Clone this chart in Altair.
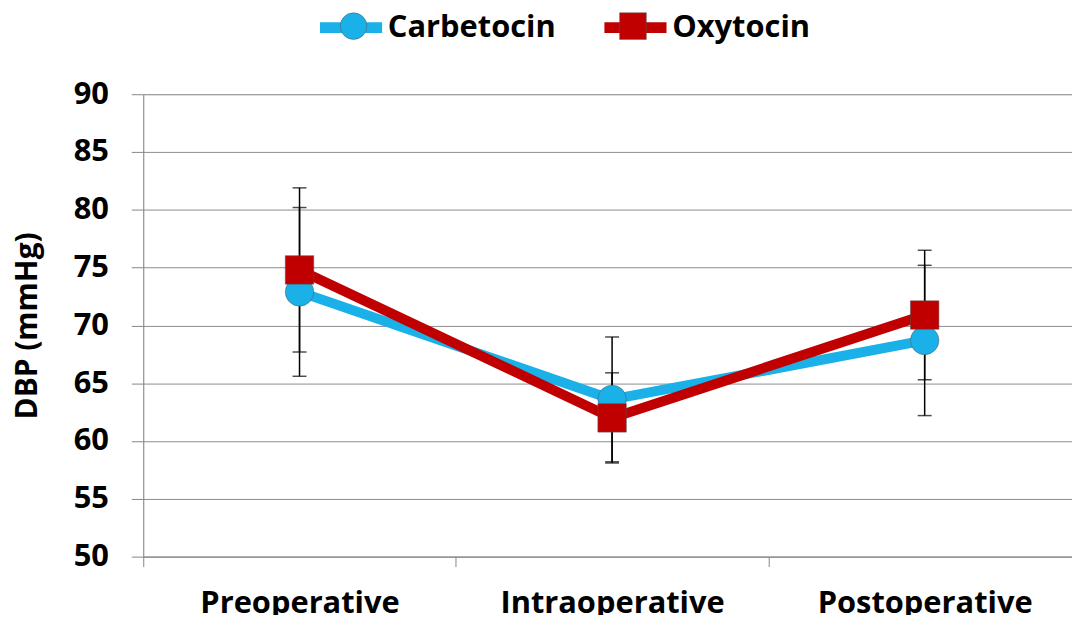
import altair as alt
import pandas as pd

phases = ["Preoperative", "Intraoperative", "Postoperative"]
series = ["Carbetocin", "Oxytocin"]
carb_mean = [72.9, 63.6, 68.7]
carb_sd = [7.3, 5.4, 6.5]
oxy_mean = [74.8, 62.0, 70.9]
oxy_sd = [7.1, 3.9, 5.6]
y_ticks = [50, 55, 60, 65, 70, 75, 80, 85, 90]
colors = ["#1AB0E8", "#C00000"]
shapes = ["circle", "square"]

rows = []
for name, means, sds in [("Carbetocin", carb_mean, carb_sd), ("Oxytocin", oxy_mean, oxy_sd)]:
    for i, p in enumerate(phases):
        rows.append({"phase": p, "series": name, "dbp": means[i],
                     "lo": means[i] - sds[i], "hi": means[i] + sds[i], "order": i})
df = pd.DataFrame(rows)

FONT = "Open Sans"
x_scale = alt.Scale(domain=phases, paddingInner=0, paddingOuter=0, range=[0, 943])
x_enc = alt.X("phase:N", sort=phases, title=None, scale=x_scale,
              axis=alt.Axis(labelAngle=0, labelFontSize=31, labelFontWeight="bold", labelColor="black",
                            labelFont=FONT, labelLimit=400, tickBand="extent", tickSize=10,
                            tickColor="#868686", domainColor="#868686", labelPadding=22, grid=False))
y_scale = alt.Scale(domain=[50, 90], nice=False, zero=False)
y_enc = alt.Y("dbp:Q", scale=y_scale, title="DBP (mmHg)",
              axis=alt.Axis(values=y_ticks, labelFontSize=31, labelFontWeight="bold", labelColor="black",
                            labelFont=FONT, tickSize=12, tickColor="#868686", domainColor="#868686",
                            gridColor="#8c8c8c", gridWidth=1, labelPadding=23,
                            titleFontSize=30, titleFontWeight="bold", titleFont=FONT, titleColor="black",
                            titlePadding=31))
color_scale = alt.Scale(domain=series, range=colors)

base = alt.Chart(df)

rules = base.mark_rule(color="black", strokeWidth=1.5).encode(
    x=x_enc, y=alt.Y("lo:Q", scale=y_scale), y2="hi:Q")
caps_hi = base.mark_tick(color="black", thickness=1.5, size=14).encode(x=x_enc, y=alt.Y("hi:Q", scale=y_scale))
caps_lo = base.mark_tick(color="black", thickness=1.5, size=14).encode(x=x_enc, y=alt.Y("lo:Q", scale=y_scale))

LX, LY = 172, -104
color_line = alt.Color("series:N", scale=color_scale,
                       legend=alt.Legend(orient="none", direction="horizontal", legendX=LX, legendY=LY,
                                         title=None, symbolType="stroke", symbolSize=3900,
                                         symbolStrokeWidth=11, labelFontSize=31, labelFontWeight="bold",
                                         labelFont=FONT, labelColor="black", labelOffset=0, labelLimit=400,
                                         columnPadding=26))
lines = base.mark_line(strokeWidth=10).encode(x=x_enc, y=y_enc, color=color_line, order="order:Q")


def point_layer(name, shape, lx):
    leg = alt.Legend(orient="none", direction="horizontal", legendX=lx, legendY=LY + 20,
                     title=None, values=[name], symbolType=shape, symbolSize=720,
                     symbolStrokeWidth=0.5, symbolStrokeColor="#555555", symbolOpacity=1,
                     labelFontSize=31, labelFontWeight="bold", labelFont=FONT, labelLimit=400,
                     labelColor="transparent")
    return base.transform_filter(alt.datum.series == name).mark_point(
        filled=True, size=820, opacity=1, shape=shape, stroke="#555555", strokeWidth=0.5).encode(
        x=x_enc, y=y_enc, color=alt.Color("series:N", scale=color_scale, legend=leg))


pts_c = point_layer("Carbetocin", "circle", LX + 24)
pts_o = point_layer("Oxytocin", "square", LX + 305)

chart = alt.layer(rules, caps_hi, caps_lo, lines, pts_c, pts_o).resolve_legend(color="independent").properties(
    width=934, height=465,
    autosize=alt.AutoSizeParams(type="none"),
    padding={"left": 136, "top": 85, "right": 0, "bottom": 57},
).configure_view(stroke=None).configure(background="white")

chart.save("out.html", embed_options={"renderer": "svg", "actions": False})
